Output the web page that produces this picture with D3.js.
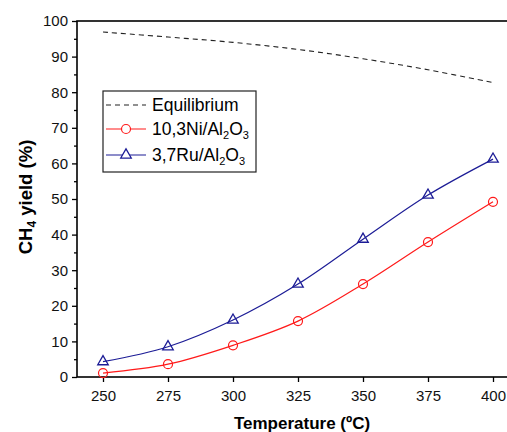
<!DOCTYPE html>
<html>
<head>
<meta charset="utf-8">
<script src="https://cdn.jsdelivr.net/npm/d3@7"></script>
<style>
body{margin:0;background:#fff;}
svg{display:block;font-family:"Liberation Sans",Arial,sans-serif;}
</style>
</head>
<body>
<svg id="chart" width="507" height="432"></svg>
<script>
// temperatures (ºC)
const temps = [250, 275, 300, 325, 350, 375, 400]
const equilibrium = [96.9, 95.5, 94.0, 92.0, 89.4, 86.3, 82.7]
const ni = [1.1, 3.6, 8.9, 15.7, 26.1, 37.9, 49.2]
const ru = [4.3, 8.5, 16.0, 26.1, 38.7, 51.1, 61.2]
const xTicks = [250, 275, 300, 325, 350, 375, 400]
const yTicks = [0, 10, 20, 30, 40, 50, 60, 70, 80, 90, 100]

const svg = d3.select("#chart")
const mLeft = 77, mTop = 21, mBottom = 377

const x = d3.scaleLinear().domain([240, 410]).range([mLeft, mLeft + 170 * 2.6])
const y = d3.scaleLinear().domain([0, 100]).range([mBottom, mTop])

// frame (right side falls outside the picture)
svg.append("rect").attr("x", mLeft).attr("y", mTop)
  .attr("width", x(410) - mLeft).attr("height", mBottom - mTop)
  .attr("fill", "none").attr("stroke", "#000").attr("stroke-width", 1.6)

// y axis
const yAxis = svg.append("g").attr("transform", `translate(${mLeft},0)`)
  .call(d3.axisLeft(y).tickValues(yTicks).tickSize(5).tickPadding(4).tickFormat(d3.format("d")))
yAxis.select(".domain").remove()
yAxis.selectAll("line").attr("stroke-width", 1.3)
yAxis.selectAll("text").attr("font-size", 15).attr("fill", "#111").attr("font-family", "Liberation Sans, Arial")
svg.append("g").attr("transform", `translate(${mLeft},0)`)
  .call(d3.axisLeft(y).tickValues(d3.range(5, 100, 10)).tickSize(3).tickFormat(""))
  .call(g => g.select(".domain").remove())
  .selectAll("line").attr("stroke-width", 1.3)

// x axis
const xAxis = svg.append("g").attr("transform", `translate(0,${mBottom})`)
  .call(d3.axisBottom(x).tickValues(xTicks).tickSize(5).tickPadding(8))
xAxis.select(".domain").remove()
xAxis.selectAll("line").attr("stroke-width", 1.3)
xAxis.selectAll("text").attr("font-size", 15).attr("fill", "#111").attr("font-family", "Liberation Sans, Arial")

// axis titles
svg.append("text").attr("x", 302).attr("y", 429).attr("text-anchor", "middle")
  .attr("font-size", 17).attr("font-weight", "bold").text("Temperature (ºC)")

const yl = svg.append("text").attr("transform", "translate(32,197) rotate(-90)")
  .attr("text-anchor", "middle").attr("font-size", 18.5).attr("font-weight", "bold")
yl.append("tspan").text("CH")
yl.append("tspan").attr("font-size", 12).attr("dy", 4).text("4")
yl.append("tspan").attr("dy", -4).text(" yield (%)")

// series
const line = d3.line().x((d, i) => x(temps[i])).y(d => y(d)).curve(d3.curveCatmullRom.alpha(0.5))

svg.append("path").attr("d", line(equilibrium)).attr("fill", "none")
  .attr("stroke", "#222").attr("stroke-width", 1.1).attr("stroke-dasharray", "5,4")

const red = "#ff1a1a", blue = "#1c1c96"
svg.append("path").attr("d", line(ni)).attr("fill", "none").attr("stroke", red).attr("stroke-width", 1.2)
svg.append("path").attr("d", line(ru)).attr("fill", "none").attr("stroke", blue).attr("stroke-width", 1.2)

const tri = d3.symbol().type(d3.symbolTriangle).size(48)

svg.append("g").selectAll("circle").data(ni).join("circle")
  .attr("cx", (d, i) => x(temps[i])).attr("cy", d => y(d)).attr("r", 4.5)
  .attr("fill", "none").attr("stroke", red).attr("stroke-width", 1.2)

svg.append("g").selectAll("path").data(ru).join("path")
  .attr("d", tri).attr("transform", (d, i) => `translate(${x(temps[i])},${y(d)})`)
  .attr("fill", "none").attr("stroke", blue).attr("stroke-width", 1.3)

// legend
const lg = svg.append("g")
lg.append("rect").attr("x", 103).attr("y", 91).attr("width", 153).attr("height", 81)
  .attr("fill", "#fff").attr("stroke", "#222").attr("stroke-width", 1.2)

const rows = [105, 129, 155]
lg.append("line").attr("x1", 106).attr("x2", 146).attr("y1", rows[0]).attr("y2", rows[0])
  .attr("stroke", "#222").attr("stroke-width", 1.1).attr("stroke-dasharray", "5,4")
lg.append("line").attr("x1", 106).attr("x2", 146).attr("y1", rows[1]).attr("y2", rows[1])
  .attr("stroke", red).attr("stroke-width", 1.2)
lg.append("circle").attr("cx", 126).attr("cy", rows[1]).attr("r", 4.5)
  .attr("fill", "#fff").attr("stroke", red).attr("stroke-width", 1.2)
lg.append("line").attr("x1", 106).attr("x2", 146).attr("y1", rows[2]).attr("y2", rows[2])
  .attr("stroke", blue).attr("stroke-width", 1.2)
lg.append("path").attr("d", tri).attr("transform", `translate(126,${rows[2]})`)
  .attr("fill", "#fff").attr("stroke", blue).attr("stroke-width", 1.3)

const labelFont = 17.5
lg.append("text").attr("x", 152).attr("y", rows[0] + 6).attr("font-size", labelFont).text("Equilibrium")

function chemLabel(yy, prefix) {
  const t = lg.append("text").attr("x", 152).attr("y", yy + 6).attr("font-size", labelFont)
  t.append("tspan").text(prefix + "/Al")
  t.append("tspan").attr("font-size", 11).attr("dy", 4).text("2")
  t.append("tspan").attr("dy", -4).text("O")
  t.append("tspan").attr("font-size", 11).attr("dy", 4).text("3")
}
chemLabel(rows[1], "10,3Ni")
chemLabel(rows[2], "3,7Ru")
</script>
</body>
</html>
